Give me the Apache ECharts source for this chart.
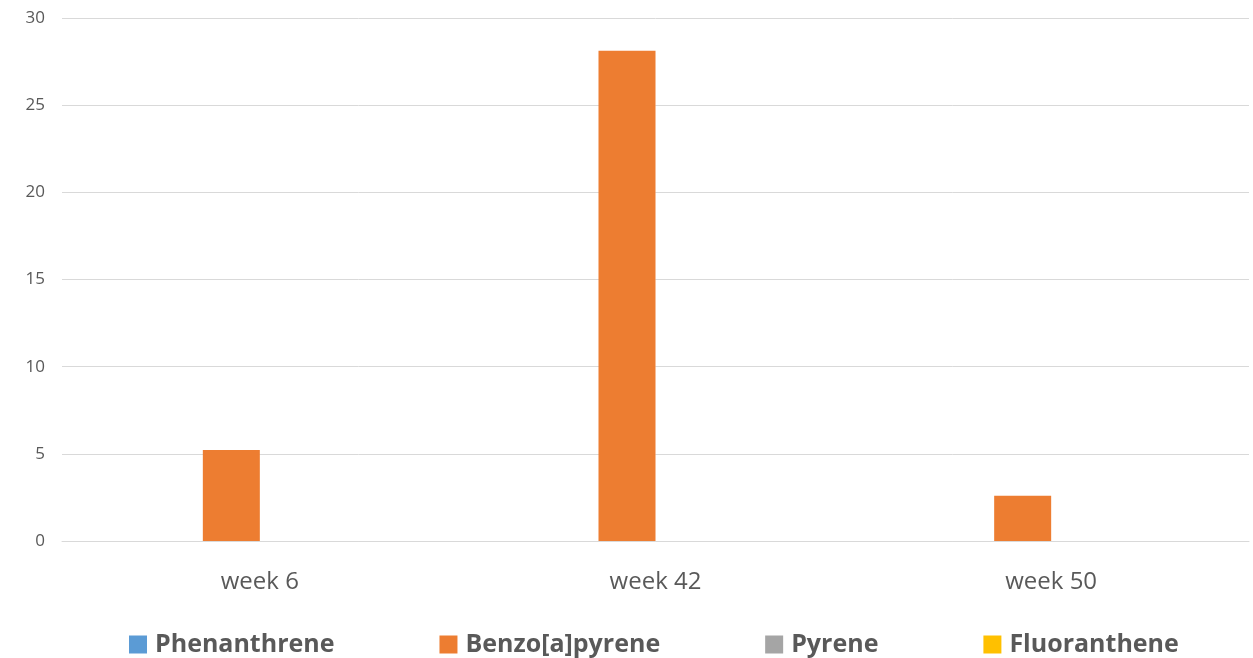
<!DOCTYPE html>
<html><head><meta charset="utf-8">
<script src="https://cdn.jsdelivr.net/npm/echarts@6/dist/echarts.min.js"></script>
<style>html,body{margin:0;padding:0;background:#fff}#c{width:1253px;height:658px}</style>
</head><body><div id="c"></div>
<script>
var categories = ['week 6', 'week 42', 'week 50'];
var seriesNames = ['Phenanthrene', 'Benzo[a]pyrene', 'Pyrene', 'Fluoranthene'];
var phenanthrene = [0, 0, 0];
var benzoApyrene = [5.22, 28.12, 2.6];
var pyrene = [0, 0, 0];
var fluoranthene = [0, 0, 0];
var colors = ['#5B9BD5', '#ED7D31', '#A5A5A5', '#FFC000'];
var yTicks = {min: 0, max: 30, interval: 5};

var dataSets = [phenanthrene, benzoApyrene, pyrene, fluoranthene];
var chart = echarts.init(document.getElementById('c'));
chart.setOption({
  animation: false,
  textStyle: {fontFamily: 'Open Sans'},
  grid: {left: 62, right: 4, top: 18, bottom: 117},
  legend: {
    left: 124, top: 627, itemWidth: 18, itemHeight: 18, itemGap: 105,
    icon: 'rect',
    textStyle: {fontSize: 25, fontWeight: 'bold', color: '#595959', fontFamily: 'Open Sans', padding: [0, 0, 0, 3]},
    data: seriesNames
  },
  xAxis: {
    type: 'category', data: categories,
    axisLine: {lineStyle: {color: '#d9d9d9', width: 1}},
    axisTick: {show: false},
    axisLabel: {fontSize: 24, color: '#595959', margin: 29, fontFamily: 'Open Sans'}
  },
  yAxis: {
    type: 'value', min: yTicks.min, max: yTicks.max, interval: yTicks.interval,
    axisLine: {show: false}, axisTick: {show: false},
    splitLine: {lineStyle: {color: '#d9d9d9', width: 1}},
    axisLabel: {fontSize: 17, color: '#595959', margin: 17, fontFamily: 'Open Sans'}
  },
  series: seriesNames.map(function (n, i) {
    return {name: n, type: 'bar', data: dataSets[i], barWidth: 57, barGap: '0%',
      itemStyle: {color: colors[i]}};
  })
});
</script></body></html>
